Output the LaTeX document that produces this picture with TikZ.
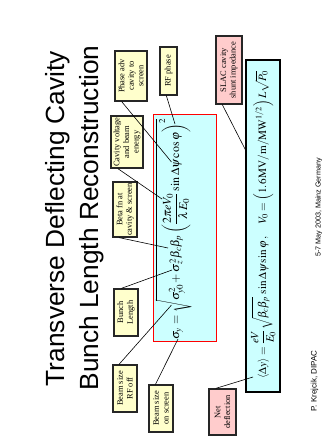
\documentclass[tikz,border=0pt]{standalone}
\usepackage{mathptmx}
\usepackage{fontspec}
\setmainfont{Liberation Serif}
\setsansfont{Liberation Sans}
\definecolor{notefill}{HTML}{FFFFCC}
\definecolor{pinkfill}{HTML}{FFCCCC}
\definecolor{cyanfill}{HTML}{CCFFFF}
\begin{document}
\begin{tikzpicture}[x=1pt, y=-1pt,
	note/.style={draw=black!85, line width=1.2pt, fill=notefill, rotate=90,
		align=center, inner sep=0pt, font=\fontsize{8.4}{9.6}\selectfont},
	pinknote/.style={note, fill=pinkfill},
	formbox/.style={fill=cyanfill, rotate=90, inner sep=0pt},
	formula/.style={rotate=90, anchor=base, font=\fontsize{12}{14}\selectfont},
	link/.style={line width=0.6pt}]
	\useasboundingbox[fill=white] (0,0) rectangle (332,445);

	% Titel
	\node[rotate=90, anchor=base, font=\sffamily\fontsize{26.3}{31}\selectfont]
		(title1) at (64.5,218.5) {Transverse Deflecting Cavity};
	\node[rotate=90, anchor=base, font=\sffamily\fontsize{26.3}{31}\selectfont]
		(title2) at (98,218) {Bunch Length Reconstruction};

	% Formelkaesten
	\node[formbox, draw=red, line width=1pt, minimum width=227pt,
		minimum height=63pt] (cavbox) at (184.5,227.5) {};
	\node[formbox, draw=black, line width=1.2pt, minimum width=332pt,
		minimum height=34pt] (defbox) at (263,226) {};
	\node[formula] (sigform) at (179,229)
		{$\displaystyle \sigma_y=\sqrt{\sigma_{y0}^2+\sigma_z^2\beta_c\beta_p
		\left(\frac{2\pi eV_0}{\lambda E_0}\sin\Delta\psi\cos\varphi\right)^2}$};
	\node[formula, font=\fontsize{11.2}{13}\selectfont] (defform) at (266,225)
		{$\displaystyle \langle\Delta y\rangle=\frac{eV}{E_0}\sqrt{\beta_c\beta_p}
		\,\sin\Delta\psi\sin\varphi\,,\quad
		V_0=\left(1.6\,\mathrm{MV/m/MW^{1/2}}\right)L\sqrt{P_0}$};

	% Erklaerungen
	\node[note, minimum width=50pt, minimum height=32pt] (phase) at (131,76)
		{Phase adv\\cavity to\\screen};
	\node[note, minimum width=48pt, minimum height=17pt] (rfphase) at (168.5,71)
		{RF phase};
	\node[note, minimum width=52pt, minimum height=32pt] (voltage) at (127,142)
		{Cavity voltage\\and beam\\energy};
	\node[note, minimum width=55pt, minimum height=24pt] (betafn) at (125,209.5)
		{Beta fn at\\cavity \& screen};
	\node[note, minimum width=47pt, minimum height=24pt] (bunch) at (126,312.5)
		{Bunch\\Length};
	\node[note, minimum width=47pt, minimum height=24pt] (rfoff) at (125,388.5)
		{Beam size\\RF off};
	\node[note, minimum width=47pt, minimum height=24pt] (onscreen) at (161,408.5)
		{Beam size\\on screen};
	\node[pinknote, minimum width=68pt, minimum height=26pt] (slac) at (229,70)
		{SLAC cavity\\shunt impedance};
	\node[pinknote, minimum width=46pt, minimum height=27pt] (net) at (222.5,412)
		{Net\\deflection};

	% Zielpunkte in den Formeln
	\coordinate (dpsi) at (171.5,162);
	\coordinate (phi) at (175,124);
	\coordinate (eV) at (162,199);
	\coordinate (betas) at (168,248);
	\coordinate (sigz) at (172,270);
	\coordinate (sigy0) at (171.5,305);
	\coordinate (sigy) at (178,339);
	\coordinate (dyavg) at (253,377);

	% Linien
	\draw[link] (phase.160) -- (dpsi);
	\draw[link] (rfphase.175) -- (phi);
	\draw[link] (voltage.161) -- (eV);
	\draw[link] (betafn.168) -- (betas);
	\draw[link] (bunch.11) -- (sigz);
	\draw[link] (rfoff.14) -- (sigy0);
	\draw[link] (onscreen.13) -- (sigy);
	\draw[link] (slac.169) -- (defbox.13);
	\draw[link] (net.16) -- (dyavg);

	% Fusszeile
	\node[rotate=90, anchor=base, font=\sffamily\fontsize{8}{9}\selectfont]
		(author) at (316.7,381) {P. Krejcik, DIPAC};
	\node[rotate=90, anchor=base, font=\sffamily\fontsize{7.2}{8}\selectfont]
		(date) at (320.7,207.5) {5-7 May 2003, Mainz Germany};
\end{tikzpicture}
\end{document}
